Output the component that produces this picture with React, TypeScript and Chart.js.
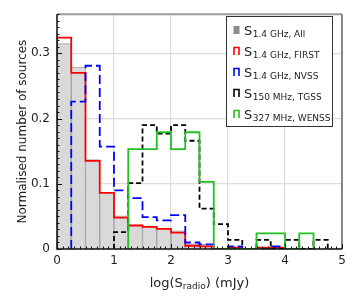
import React, { useEffect, useRef } from 'react';
import { Chart, registerables } from 'chart.js';

Chart.register(...registerables);

// ---- data ----
const BIN_EDGES = [0, 0.25, 0.5, 0.75, 1, 1.25, 1.5, 1.75, 2, 2.25, 2.5, 2.75, 3, 3.25, 3.5, 3.75, 4, 4.25, 4.5, 4.75, 5];
const ALL_VALUES = [0.315, 0.279, 0.137, 0.087, 0.051, 0.037, 0.035, 0.032, 0.028, 0.008, 0.007, 0, 0.003, 0, 0.003, 0.003, 0, 0, 0, 0];
const FIRST_VALUES = [0.324, 0.27, 0.135, 0.086, 0.048, 0.036, 0.034, 0.031, 0.025, 0.005, 0.004, 0, 0.002, 0, 0.002, 0.002, 0, 0, 0, 0];
const NVSS_VALUES = [0, 0.226, 0.281, 0.157, 0.09, 0.078, 0.049, 0.044, 0.052, 0.01, 0.007, 0, 0.004, 0, 0, 0.004, 0, 0, 0, 0];
const TGSS_VALUES = [0, 0, 0, 0, 0.026, 0.101, 0.19, 0.177, 0.19, 0.166, 0.062, 0.038, 0.014, 0, 0.014, 0, 0.014, 0, 0.014, 0];
const WENSS_VALUES = [0, 0, 0, 0, 0, 0.153, 0.153, 0.179, 0.153, 0.179, 0.103, 0, 0, 0, 0.024, 0.024, 0, 0.024, 0, 0];

const X_TICKS = [0, 1, 2, 3, 4, 5];
const Y_TICKS = [0, 0.1, 0.2, 0.3];
const SERIES_MAIN = ['S', 'S', 'S', 'S', 'S'];
const SERIES_SUB = ['1.4 GHz, All', '1.4 GHz, FIRST', '1.4 GHz, NVSS', '150 MHz, TGSS', '327 MHz, WENSS'];
const Y_TITLE = 'Normalised number of sources';
const X_TITLE_PARTS = ['log(S', 'radio', ') (mJy)'];

const FONT = '"DejaVu Sans", sans-serif';
const COLORS = ['#8c8c8c', '#ff0000', '#0000ff', '#000000', '#22c022'];
const DASHES: number[][] = [[], [], [9, 4], [5, 3], []];

function stepPoints(values: number[]) {
  const first = values.findIndex((v) => v > 0);
  let last = values.length - 1;
  while (last > 0 && values[last] <= 0) last--;
  const pts: { x: number; y: number }[] = [{ x: BIN_EDGES[first], y: 0 }];
  for (let i = first; i <= last; i++) pts.push({ x: BIN_EDGES[i], y: values[i] });
  pts.push({ x: BIN_EDGES[last + 1], y: 0 });
  return pts;
}

const framePlugin = {
  id: 'frameTicks',
  afterDatasetsDraw(chart: any) {
    const { ctx, chartArea: a, scales } = chart;
    const xs = scales.x;
    const ys = scales.y;
    ctx.save();
    // top & right borders
    ctx.strokeStyle = '#9a9a9a';
    ctx.lineWidth = 2;
    ctx.beginPath();
    ctx.moveTo(a.left, a.top);
    ctx.lineTo(a.right, a.top);
    ctx.stroke();
    ctx.strokeStyle = '#666';
    ctx.lineWidth = 1.5;
    ctx.beginPath();
    ctx.moveTo(a.right, a.top);
    ctx.lineTo(a.right, a.bottom);
    ctx.stroke();
    // left & bottom axes
    ctx.strokeStyle = '#111';
    ctx.lineWidth = 1.5;
    ctx.beginPath();
    ctx.moveTo(a.left, a.top);
    ctx.lineTo(a.left, a.bottom);
    ctx.lineTo(a.right, a.bottom);
    ctx.stroke();
    // ticks (inward)
    ctx.lineWidth = 1;
    ctx.beginPath();
    for (let i = 0; i <= 50; i++) {
      const v = i / 10;
      const px = Math.round(xs.getPixelForValue(v)) + 0.5;
      const len = i % 10 === 0 ? 5 : 2.5;
      ctx.moveTo(px, a.bottom);
      ctx.lineTo(px, a.bottom - len);
    }
    for (let i = 0; i <= 36; i++) {
      const v = i / 100;
      const py = Math.round(ys.getPixelForValue(v)) + 0.5;
      const len = i % 10 === 0 ? 5 : 2.5;
      ctx.moveTo(a.left, py);
      ctx.lineTo(a.left + len, py);
    }
    ctx.stroke();
    ctx.restore();
  },
};

const annotatePlugin = {
  id: 'legendAndTitle',
  afterDraw(chart: any) {
    const { ctx, chartArea: a } = chart;
    ctx.save();
    // x title with subscript
    const mainF = `13px ${FONT}`;
    const subF = `9px ${FONT}`;
    ctx.font = mainF;
    const w0 = ctx.measureText(X_TITLE_PARTS[0]).width;
    const w2 = ctx.measureText(X_TITLE_PARTS[2]).width;
    ctx.font = subF;
    const w1 = ctx.measureText(X_TITLE_PARTS[1]).width;
    const total = w0 + w1 + w2;
    let x = (a.left + a.right) / 2 - total / 2;
    const by = 287;
    ctx.fillStyle = '#222';
    ctx.textBaseline = 'alphabetic';
    ctx.textAlign = 'left';
    ctx.font = mainF;
    ctx.fillText(X_TITLE_PARTS[0], x, by);
    x += w0;
    ctx.font = subF;
    ctx.fillText(X_TITLE_PARTS[1], x, by + 2);
    x += w1;
    ctx.font = mainF;
    ctx.fillText(X_TITLE_PARTS[2], x, by);

    // legend
    const bx = 226.5, byy = 16.5, bw = 106, bh = 110;
    ctx.fillStyle = '#fff';
    ctx.fillRect(bx, byy, bw, bh);
    ctx.strokeStyle = '#333';
    ctx.lineWidth = 1;
    ctx.strokeRect(bx, byy, bw, bh);
    for (let i = 0; i < SERIES_SUB.length; i++) {
      const cy = 30 + i * 21;
      const ix = 234;
      if (i === 0) {
        ctx.fillStyle = COLORS[0];
        ctx.fillRect(ix - 0.5, cy - 4, 6, 8);
      } else {
        ctx.strokeStyle = COLORS[i];
        ctx.lineWidth = 1.6;
        ctx.beginPath();
        ctx.moveTo(ix, cy + 4);
        ctx.lineTo(ix, cy - 3.5);
        ctx.lineTo(ix + 5, cy - 3.5);
        ctx.lineTo(ix + 5, cy + 4);
        ctx.stroke();
      }
      ctx.fillStyle = '#222';
      ctx.font = mainF;
      const baseline = cy + 5;
      ctx.fillText(SERIES_MAIN[i], 244, baseline);
      const sw = ctx.measureText(SERIES_MAIN[i]).width;
      ctx.font = subF;
      ctx.fillText(SERIES_SUB[i], 244 + sw + 0.5, baseline + 1.5);
    }
    ctx.restore();
  },
};

export default function App() {
  const ref = useRef<HTMLCanvasElement | null>(null);
  useEffect(() => {
    document.body.style.margin = '0';
    const canvas = ref.current;
    if (!canvas) return;
    const lineSeries = [FIRST_VALUES, NVSS_VALUES, TGSS_VALUES, WENSS_VALUES];
    const datasets: any[] = [
      {
        type: 'bar',
        label: SERIES_MAIN[0] + ' ' + SERIES_SUB[0],
        data: ALL_VALUES.map((v, i) => ({ x: (BIN_EDGES[i] + BIN_EDGES[i + 1]) / 2, y: v })).filter((p) => p.y > 0),
        backgroundColor: '#d9d9d9',
        borderColor: '#a3a3a3',
        borderWidth: 1,
        barPercentage: 1,
        categoryPercentage: 1,
        grouped: false,
        order: 10,
      },
      ...lineSeries.map((vals, k) => ({
        type: 'line',
        label: SERIES_MAIN[k + 1] + ' ' + SERIES_SUB[k + 1],
        data: stepPoints(vals),
        borderColor: COLORS[k + 1],
        borderWidth: 1.8,
        borderDash: DASHES[k + 1],
        stepped: 'before',
        pointRadius: 0,
        fill: false,
        order: 9 - k,
        borderJoinStyle: 'miter',
      })),
    ];
    const chart = new Chart(canvas, {
      type: 'bar',
      data: { datasets },
      options: {
        animation: false,
        responsive: false,
        maintainAspectRatio: false,
        layout: { padding: { left: 0, right: 12, top: 11, bottom: 0 } },
        plugins: { legend: { display: false }, tooltip: { enabled: false } },
        scales: {
          x: {
            type: 'linear',
            min: 0,
            max: 5,
            offset: false,
            grid: { color: '#dcdcdc', lineWidth: 1.2, drawTicks: false, offset: false },
            border: { display: false },
            afterBuildTicks: (s: any) => {
              s.ticks = X_TICKS.map((v) => ({ value: v }));
            },
            afterFit: (s: any) => {
              s.height = 47;
            },
            ticks: {
              padding: 5,
              color: '#222',
              font: { family: FONT, size: 12 },
              callback: (v: any) => String(v),
              maxRotation: 0,
              autoSkip: false,
            },
          },
          y: {
            type: 'linear',
            min: 0,
            max: 0.36,
            grid: { color: '#dcdcdc', lineWidth: 1.2, drawTicks: false },
            border: { display: false },
            afterBuildTicks: (s: any) => {
              s.ticks = Y_TICKS.map((v) => ({ value: v }));
            },
            afterFit: (s: any) => {
              s.width = 57;
            },
            ticks: {
              padding: 7,
              color: '#222',
              font: { family: FONT, size: 12 },
              callback: (v: any) => (v === 0 ? '0' : Number(v).toFixed(1)),
            },
            title: {
              display: true,
              text: Y_TITLE,
              color: '#222',
              font: { family: FONT, size: 12 },
              padding: { top: 16, bottom: 0 },
            },
          },
        },
      },
      plugins: [framePlugin, annotatePlugin],
    } as any);
    return () => chart.destroy();
  }, []);
  return (
    <div style={{ width: 354, height: 296 }}>
      <canvas ref={ref} width={354} height={296} style={{ width: 354, height: 296, display: 'block' }} />
    </div>
  );
}
